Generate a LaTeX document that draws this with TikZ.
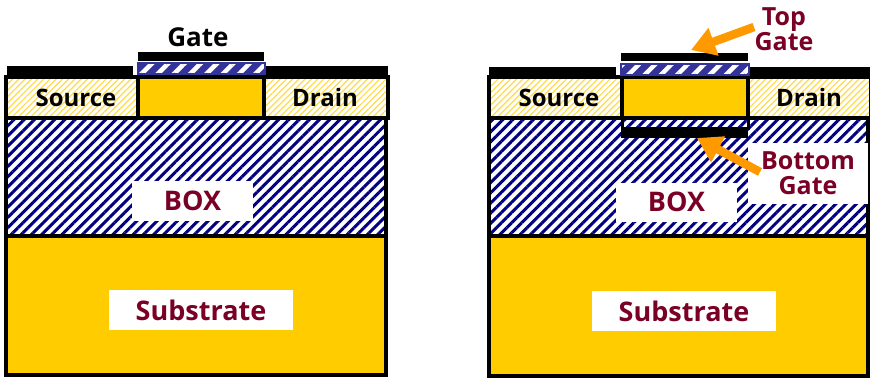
\documentclass[tikz,border=0pt]{standalone}
\usepackage{fontspec}
\setmainfont{Open Sans}
\usepackage{tikz}
\usetikzlibrary{arrows.meta,patterns.meta}
\definecolor{goldfill}{HTML}{FFCC00}
\definecolor{navyline}{HTML}{000080}
\definecolor{oxideline}{HTML}{333399}
\definecolor{maroontext}{HTML}{7A0026}
\definecolor{arroworange}{HTML}{FF9900}
\begin{document}
\begin{tikzpicture}[
  x=1pt, y=-1pt,
  silicon/.style={draw=black, line width=3.5pt, fill=goldfill},
  contact/.style={draw=black, line width=3.5pt,
    preaction={fill=white},
    preaction={pattern={Lines[angle=45,distance=4.4pt,line width=1.2pt]},pattern color=goldfill!70}},
  oxide/.style={draw=black, line width=3.5pt,
    preaction={fill=white},
    preaction={pattern={Lines[angle=45,distance=7.2pt,line width=3pt]},pattern color=navyline}},
  gateox/.style={draw=oxideline, line width=2pt,
    preaction={fill=oxideline},
    preaction={pattern={Lines[angle=45,distance=11.5pt,line width=4.5pt]},pattern color=white}},
  metal/.style={fill=black, draw=none},
  lbl/.style={font=\bfseries\fontsize{24}{26}\selectfont, text=black, inner sep=0pt, align=center},
  redlbl/.style={font=\bfseries\fontsize{25}{25}\selectfont, text=maroontext, inner sep=0pt, align=center},
  biglbl/.style={redlbl, font=\bfseries\fontsize{27}{28}\selectfont},
  whitebox/.style={fill=white, inner sep=0pt},
  callout/.style={draw=arroworange, line width=8.5pt,
    -{Triangle[length=24pt,width=28pt]}}
]
\useasboundingbox (0,0) rectangle (870,378);
% left device
\draw[oxide] (6,118) rectangle (386,236);
\draw[silicon] (6,236) rectangle (386,375);
\draw[contact] (6,77) rectangle (138,118);
\draw[contact] (264,77) rectangle (388,118);
\draw[silicon] (138,77) rectangle (264,118);
\fill[metal] (6.5,66) rectangle (133,75);
\fill[metal] (262,66) rectangle (388,75);
\fill[metal] (138,52) rectangle (264,61);
\draw[gateox] (137.5,63) rectangle (264.5,74);
\node[lbl, font=\bfseries\fontsize{26}{28}\selectfont] (gateL) at (198,37) {Gate};
\node[lbl] (sourceL) at (76,98) {Source};
\node[lbl] (drainL) at (325,97) {Drain};
\node[whitebox, biglbl, minimum width=121pt, minimum height=40pt] (boxL) at (192.5,201) {BOX};
\node[whitebox, biglbl, minimum width=184pt, minimum height=40pt] (subL) at (201,310) {Substrate};
% right device
\draw[oxide] (489,118) rectangle (868,236);
\draw[silicon] (489,236) rectangle (868,376);
\draw[contact] (489,77) rectangle (622,118);
\draw[contact] (748,77) rectangle (871,118);
\draw[silicon] (622,77) rectangle (748,118);
\draw[black, line width=3pt] (622,118) -- (622,130);
\draw[black, line width=3pt] (748,118) -- (748,130);
\fill[metal] (621,127) rectangle (748,138);
\fill[metal] (489,67) rectangle (616,76);
\fill[metal] (746,67) rectangle (870,76);
\fill[metal] (621,53) rectangle (748,61);
\draw[gateox] (620.5,63.5) rectangle (748.5,74.5);
\node[lbl] (sourceR) at (559,98) {Source};
\node[lbl] (drainR) at (809,97) {Drain};
\node[whitebox, biglbl, minimum width=121pt, minimum height=39pt] (boxR) at (676.5,202) {BOX};
\node[whitebox, biglbl, minimum width=184pt, minimum height=40pt] (subR) at (684,311) {Substrate};
\node[whitebox, redlbl, minimum width=120pt, minimum height=61pt] (bottomR) at (808,173.5) {Bottom\\Gate};
\node[redlbl] (topR) at (784,29) {Top\\Gate};
% callouts
\coordinate (topTail) at (754,27);
\coordinate (topTip) at (691,50);
\coordinate (bottomTail) at (760,172);
\coordinate (bottomTip) at (697,138);
\draw[callout] (topTail) -- (topTip);
\draw[callout] (bottomTail) -- (bottomTip);
\end{tikzpicture}
\end{document}
